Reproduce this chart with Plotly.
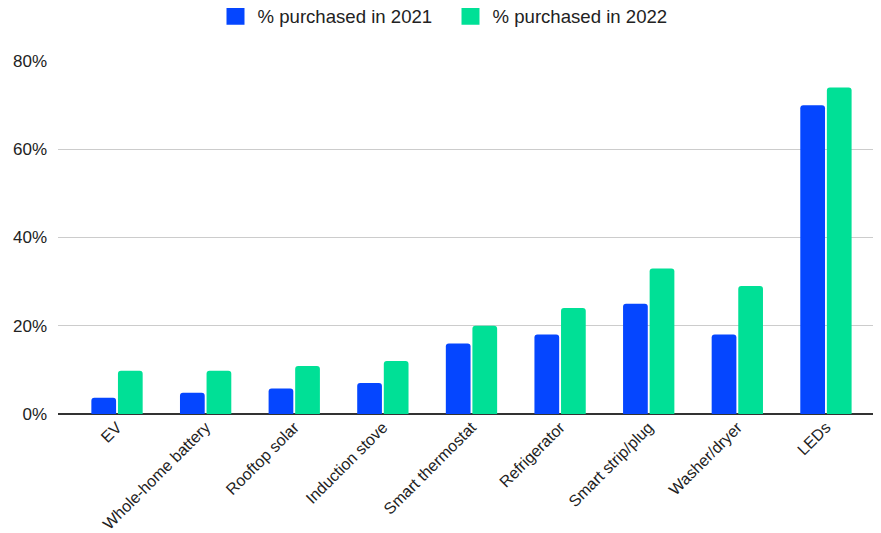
import plotly.graph_objects as go

categories = ["EV", "Whole-home battery", "Rooftop solar", "Induction stove",
              "Smart thermostat", "Refrigerator", "Smart strip/plug", "Washer/dryer", "LEDs"]
pct_2021 = [3.7, 4.8, 5.8, 7, 16, 18, 25, 18, 70]
pct_2022 = [9.8, 9.8, 10.9, 12, 20, 24, 33, 29, 74]
series_names = ["% purchased in 2021", "% purchased in 2022"]
series_colors = ["#0546FF", "#00E096"]
y_ticks = [0, 20, 40, 60, 80]
y_tick_labels = ["0%", "20%", "40%", "60%", "80%"]

fig = go.Figure()
for vals, name, col in zip([pct_2021, pct_2022], series_names, series_colors):
    fig.add_trace(go.Bar(x=categories, y=vals, name=name, showlegend=False,
                         marker=dict(color=col, line=dict(width=0))))
# legend entries with larger square swatches
for name, col in zip(series_names, series_colors):
    fig.add_trace(go.Scatter(x=[None], y=[None], mode="markers", name=name,
                             marker=dict(symbol="square", size=16, color=col,
                                         line=dict(width=2, color=col))))

fig.update_layout(
    width=881, height=533,
    margin=dict(l=50, r=9, t=53, b=127, autoexpand=False),
    paper_bgcolor="white", plot_bgcolor="white",
    font=dict(family="Liberation Sans, Arial, sans-serif", color="#222222"),
    barmode="group", bargap=0.4, bargroupgap=0.07, barcornerradius=3,
    legend=dict(orientation="h", x=0.5, xanchor="center", xref="container",
                y=1.181, yanchor="top", yref="paper",
                font=dict(size=18.6, color="#222222"),
                itemwidth=34, entrywidth=186, traceorder="normal"),
    showlegend=True,
)
fig.update_xaxes(range=[-0.666, 8.61], tickangle=-45, tickfont=dict(size=16, color="#222222"),
                 showgrid=False, showline=False, ticks="")
fig.update_yaxes(range=[0, 80], tickvals=y_ticks, ticktext=y_tick_labels,
                 tickfont=dict(size=17, color="#222222"), showgrid=True, gridcolor="#cccccc",
                 gridwidth=1, zeroline=True, zerolinecolor="#333333", zerolinewidth=2,
                 ticks="", ticklabelstandoff=10)
fig.write_html("out.html")
